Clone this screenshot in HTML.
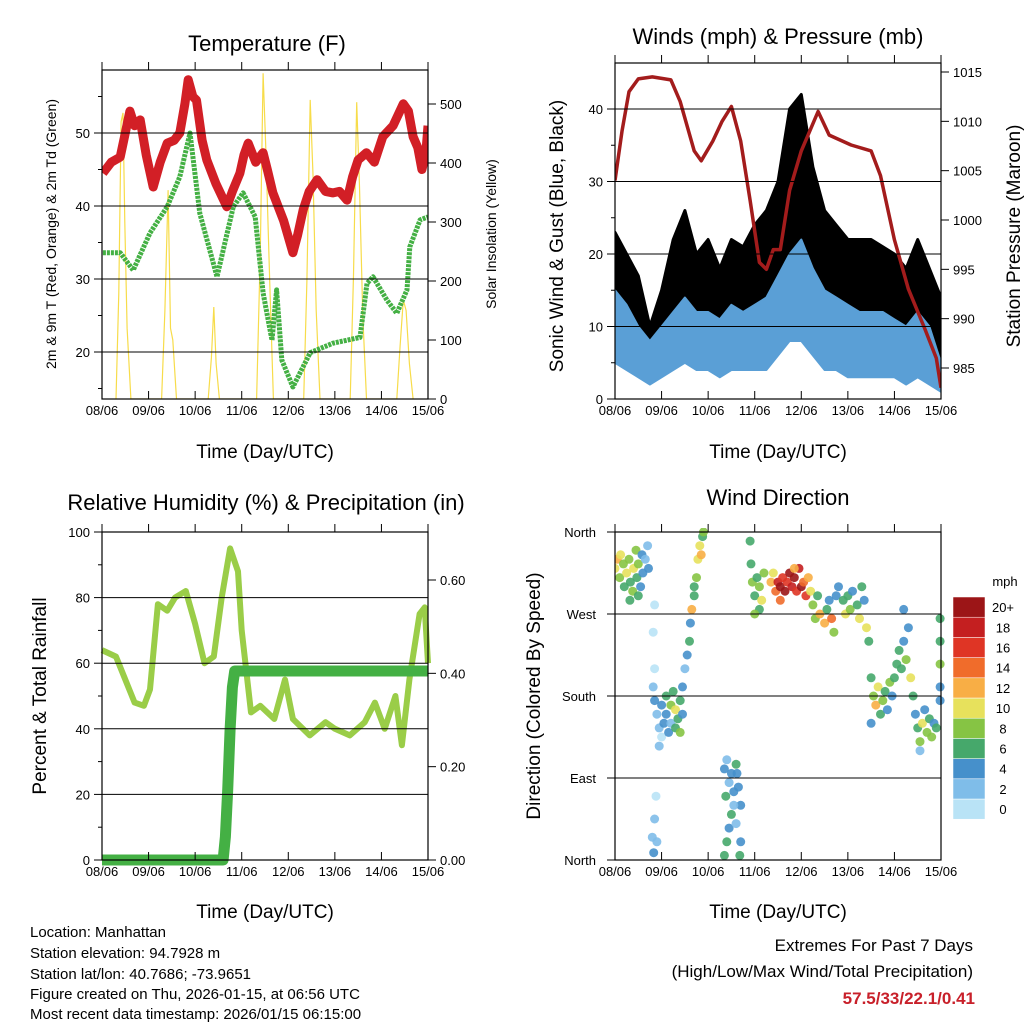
<!DOCTYPE html>
<html><head><meta charset="utf-8"><style>
body{margin:0;background:#fff}
svg{display:block;font-family:"Liberation Sans",sans-serif}
</style></head><body>
<svg id="fig" width="1024" height="1024" viewBox="0 0 1024 1024" xmlns="http://www.w3.org/2000/svg">
<rect width="1024" height="1024" fill="#fff"/>
<g id="layer"></g>
<text x="267" y="51" font-size="22" text-anchor="middle">Temperature (F)</text>
<text x="778" y="44" font-size="22" text-anchor="middle">Winds (mph) &amp; Pressure (mb)</text>
<text x="266" y="510" font-size="22" text-anchor="middle">Relative Humidity (%) &amp; Precipitation (in)</text>
<text x="778" y="505" font-size="22" text-anchor="middle">Wind Direction</text>
<text x="265" y="458" font-size="19" text-anchor="middle">Time (Day/UTC)</text>
<text x="778" y="458" font-size="19" text-anchor="middle">Time (Day/UTC)</text>
<text x="265" y="918" font-size="19" text-anchor="middle">Time (Day/UTC)</text>
<text x="778" y="918" font-size="19" text-anchor="middle">Time (Day/UTC)</text>
<text transform="translate(56,234) rotate(-90)" font-size="14" text-anchor="middle">2m &amp; 9m T (Red, Orange) &amp; 2m Td (Green)</text>
<text transform="translate(496,234) rotate(-90)" font-size="14" text-anchor="middle">Solar Insolation (Yellow)</text>
<text transform="translate(563,236) rotate(-90)" font-size="19" text-anchor="middle">Sonic Wind &amp; Gust (Blue, Black)</text>
<text transform="translate(1020,236) rotate(-90)" font-size="19" text-anchor="middle">Station Pressure (Maroon)</text>
<text transform="translate(46,696) rotate(-90)" font-size="19" text-anchor="middle">Percent &amp; Total Rainfall</text>
<text transform="translate(540,696) rotate(-90)" font-size="19" text-anchor="middle">Direction (Colored By Speed)</text>
<g font-size="15">
<text x="30" y="937">Location: Manhattan</text>
<text x="30" y="958">Station elevation: 94.7928 m</text>
<text x="30" y="979">Station lat/lon: 40.7686; -73.9651</text>
<text x="30" y="999">Figure created on Thu, 2026-01-15, at 06:56 UTC</text>
<text x="30" y="1019">Most recent data timestamp: 2026/01/15 06:15:00</text>
</g>
<text x="973" y="951" font-size="17" text-anchor="end">Extremes For Past 7 Days</text>
<text x="973" y="977" font-size="17" text-anchor="end">(High/Low/Max Wind/Total Precipitation)</text>
<text x="975" y="1004" font-size="17" font-weight="bold" fill="#c8202a" text-anchor="end">57.5/33/22.1/0.41</text>
</svg>
<script>
// ---- Temperature panel data ----
const tempTimes=[0.02,0.2,0.39,0.5,0.6,0.7,0.82,0.95,1.1,1.25,1.4,1.55,1.67,1.78,1.85,1.95,2.03,2.15,2.25,2.45,2.68,2.8,2.96,3.05,3.14,3.3,3.46,3.55,3.67,3.9,4.1,4.2,4.32,4.45,4.62,4.8,4.96,5.1,5.26,5.38,5.5,5.68,5.85,6.03,6.25,6.47,6.58,6.68,6.78,6.87,6.95,7];
const tempVals=[44.5,46,46.7,50,53,51,51.8,47,42.6,46,48.6,49,50,54,57.3,55,54.5,49,46.3,43,39.9,42,44.5,47,48.6,46,47.3,45,41.8,38,33.6,36,39.5,42,43.6,42,41.8,42,40.8,44,46.3,47.3,46,49.5,51,54,53,49.5,48,45,47,51];
const dewTimes=[0.02,0.39,0.67,1.03,1.4,1.67,1.89,2.1,2.47,2.82,3.03,3.29,3.46,3.65,3.75,3.86,4.1,4.47,4.96,5.54,5.69,5.82,6.12,6.33,6.55,6.61,6.83,7];
const dewVals=[33.6,33.6,31.2,36.3,39.9,44,50,39,30.3,39.9,41.8,38.5,28.1,21.6,28.5,18.9,15.2,19.9,21.2,22,29.4,30.3,27.1,25.3,28.5,34.4,38.1,38.5];
const solarTimes=[0.3,0.36,0.41,0.45,0.49,0.54,0.62, 1.28,1.35,1.42,1.47,1.52,1.6, 2.28,2.35,2.4,2.45,2.52, 3.32,3.4,3.46,3.52,3.6,3.68, 4.33,4.4,4.47,4.53,4.6,4.68, 5.33,5.4,5.47,5.53,5.6,5.68, 6.33,6.4,6.47,6.53,6.6,6.68];
const solarVals=[0,180,470,485,300,120,0, 0,150,354,120,100,0, 0,70,156,60,0, 0,250,552,420,200,0, 0,200,507,380,150,0, 0,210,503,360,140,0, 0,90,168,150,60,0];
// ---- Winds panel data ----
const windTimes=[0,0.25,0.5,0.75,1,1.25,1.5,1.75,2,2.25,2.5,2.75,3,3.25,3.5,3.75,4,4.25,4.5,4.75,5,5.25,5.5,5.75,6,6.25,6.5,6.75,7];
const windLo=[5,4,3,2,3,4,5,4,4,3,4,4,4,4,6,8,8,6,4,4,3,3,3,3,3,2,3,2,1];
const windHi=[15,13,10,8,10,12,14,12,12,11,13,12,13,14,17,20,22,18,15,14,13,12,12,12,11,10,12,10,5];
const gustLo=[10,9,7,4,6,8,10,8,8,7,9,8,9,10,14,17,18,12,10,9,9,8,8,7,7,6,7,6,4];
const gustHi=[23,20,17,10,15,22,26,20,22,18,22,21,24,26,30,40,42,32,26,24,22,22,22,21,20,18,22,18,14];
const presTimes=[0,0.15,0.3,0.5,0.8,1.2,1.4,1.7,1.85,2.1,2.3,2.5,2.7,2.9,3.1,3.25,3.4,3.55,3.75,4.0,4.36,4.6,5.07,5.5,5.7,6.0,6.3,6.65,6.9,7];
const presVals=[1004,1009,1013,1014.3,1014.5,1014.2,1012,1007,1006,1008,1010,1011.5,1008,1002,995.7,995,997,997,1003,1007,1011,1008.6,1007.6,1007,1004.5,998,993,989,986,983];
// ---- RH panel data ----
const rhTimes=[0,0.3,0.5,0.7,0.9,1.03,1.2,1.4,1.57,1.8,2.0,2.2,2.4,2.57,2.75,2.92,3.0,3.2,3.4,3.7,3.93,4.1,4.46,4.8,5.0,5.32,5.64,5.86,6.07,6.3,6.44,6.6,6.82,6.93,7];
const rhVals=[64,62,55,48,47,52,78,76,80,82,72,60,62,80,95,88,70,45,47,43,55,43,38,42,40,38,42,48,40,50,35,55,75,77,60];
const rainTimes=[0,2.6,2.65,2.7,2.75,2.8,2.85,7];
const rainVals=[0,0,0.05,0.15,0.28,0.37,0.405,0.405];
// ---- Wind direction data ----
const wdTimes=[0.0,0.05,0.1,0.12,0.18,0.2,0.25,0.3,0.33,0.38,0.4,0.45,0.47,0.5,0.55,0.58,0.6,0.65,0.7,0.72,0.5,0.32,
0.85,0.82,0.85,0.82,0.88,0.85,0.8,0.83,0.9,
0.85,0.9,0.95,1.0,1.0,1.05,1.1,1.1,1.15,1.2,1.2,1.25,1.3,1.3,1.35,1.4,1.4,1.45,0.95,
1.45,1.5,1.55,1.6,1.65,1.62,1.7,1.75,1.78,1.82,1.88,1.9,1.85,1.7,
2.35,2.4,2.45,2.5,2.55,2.6,2.65,2.7,2.5,2.45,2.4,2.35,2.6,2.7,2.68,2.55,2.38,2.62,
2.9,2.92,2.95,3.0,3.05,3.1,3.1,3.15,3.0,3.2,
3.35,3.4,3.45,3.5,3.55,3.6,3.65,3.7,3.75,3.8,3.85,3.9,3.95,4.0,4.05,4.1,4.15,4.2,3.55,3.85,
4.25,4.3,4.35,4.4,4.5,4.55,4.6,4.65,4.7,4.75,4.8,4.9,4.95,5.0,5.05,5.1,5.2,5.25,5.3,5.35,5.4,5.45,
5.5,5.55,5.6,5.65,5.7,5.75,5.8,5.85,5.5,5.9,5.95,6.0,
6.05,6.1,6.15,6.2,6.25,6.3,6.35,6.4,6.2,
6.45,6.5,6.55,6.6,6.65,6.7,6.75,6.8,6.85,6.9,6.55,
6.98,6.98,6.98,6.98,6.98];
const wdDirs=[320,330,310,335,325,300,315,330,305,295,320,340,310,325,300,335,315,330,345,320,290,285,
280,250,210,190,70,45,25,8,20,
175,160,145,170,135,150,180,160,140,170,150,185,165,145,155,175,140,160,125,
190,210,225,240,275,260,290,310,330,345,355,360,335,300,
100,110,85,95,75,105,80,60,50,35,20,5,40,20,5,60,70,95,
350,325,305,290,310,300,275,285,270,315,
305,315,295,305,300,310,295,305,315,300,310,295,320,300,305,290,310,295,285,320,
280,265,290,270,260,275,285,265,250,290,300,285,270,290,275,295,280,265,300,285,255,240,
200,180,170,190,160,175,185,165,150,195,180,200,
215,230,210,240,220,255,200,180,275,
160,145,130,150,165,140,155,135,150,145,120,
265,215,190,175,240];
const wdSpeeds=[10,12,8,10,8,6,11,9,7,8,10,9,6,8,4,5,4,3,2,4,7,6,
1,1,1,2,0,2,3,4,2,
4,2,2,4,1,4,6,4,4,8,3,7,10,6,7,6,8,5,2,
4,2,4,6,12,4,7,8,10,11,7,8,12,6,
4,3,2,4,4,6,4,4,6,4,6,6,3,4,6,2,6,5,
6,6,8,7,6,9,7,10,8,9,
12,11,14,18,20,17,20,16,20,18,20,16,18,20,14,16,12,10,14,12,
8,8,6,12,12,6,4,14,8,4,4,6,10,6,8,4,6,10,6,4,10,6,
6,8,13,10,6,8,6,4,4,8,4,6,
6,6,6,4,8,4,10,6,4,
4,6,8,10,4,8,6,8,4,6,2,
6,8,4,4,6];
const speedColors=["#b9e3f6","#7fbde9","#4690cb","#46a86b","#86c444","#e7e15c","#f8ae45","#f06c2b","#df3525","#c41f20","#9c1517"];
const speedLabels=["0","2","4","6","8","10","12","14","16","18","20+"];
const dayLabels=["08/06","09/06","10/06","11/06","12/06","13/06","14/06","15/06"];

const NS="http://www.w3.org/2000/svg";
const layer=document.getElementById('layer');
function mk(tag,attrs,parent){const e=document.createElementNS(NS,tag);for(const k in attrs)e.setAttribute(k,attrs[k]);(parent||layer).appendChild(e);return e;}
function lin(d0,d1,r0,r1){return v=>r0+(v-d0)/(d1-d0)*(r1-r0);}
function pathOf(xs,ys,fx,fy){return xs.map((t,i)=>(i?'L':'M')+fx(t).toFixed(1)+','+fy(ys[i]).toFixed(1)).join(' ');}

function frame(name,x0,x1,y0,y1,leftTicks,leftLab,fy,rightTicks,rightLab,fyR,minorL,lpad){
  const g=mk('g',{});
  
  
  const fx=lin(0,7,x0,x1);
  leftTicks.forEach((v,i)=>{
    const y=fy(v);
    if(y>y0+1&&y<y1-1){const gl=mk('line',{x1:x0,x2:x1,y1:y,y2:y,stroke:'#000','stroke-width':1},g);
    
    }
    mk('line',{x1:x0-8,x2:x0,y1:y,y2:y,stroke:'#000'},g);
    const t=mk('text',{x:x0-(lpad||12),y:y+5,'font-size':13,'text-anchor':'end'},g);t.textContent=leftLab[i];
    
    
  });
  (minorL||[]).forEach(v=>{const y=fy(v);mk('line',{x1:x0-4,x2:x0,y1:y,y2:y,stroke:'#000'},g);});
  if(rightTicks)rightTicks.forEach((v,i)=>{
    const y=fyR(v);
    mk('line',{x1:x1,x2:x1+8,y1:y,y2:y,stroke:'#000'},g);
    const t=mk('text',{x:x1+12,y:y+5,'font-size':13},g);t.textContent=rightLab[i];
    
    
  });
  dayLabels.forEach((l,i)=>{
    const x=fx(i);
    mk('line',{x1:x,x2:x,y1:y1-8,y2:y1,stroke:'#000'},g);
    mk('line',{x1:x,x2:x,y1:y0-8,y2:y0,stroke:'#000'},g);
    const t=mk('text',{x:x,y:y1+16,'font-size':13,'text-anchor':'middle'},g);t.textContent=l;
    
    
  });
  return g;
}
function border(name,x0,x1,y0,y1){const r=mk('rect',{x:x0,y:y0,width:x1-x0,height:y1-y0,fill:'none',stroke:'#000','stroke-width':1.2});
  
  }

// Panel 1: temperature
(function(){
  const x0=102,x1=428,y0=70,y1=399;
  const fx=lin(0,7,x0,x1), fy=lin(20,50,352,133), fs=lin(0,500,399,104);
  const cp=mk('clipPath',{id:'c1'});mk('rect',{x:x0,y:y0,width:x1-x0,height:y1-y0},cp);
  const g=mk('g',{'clip-path':'url(#c1)'});
  const s=mk('path',{d:pathOf(solarTimes,solarVals,fx,fs),fill:'none',stroke:'#f7dc4a','stroke-width':1.2},g);
  
  
  const d=mk('path',{d:pathOf(dewTimes,dewVals,fx,fy),fill:'none',stroke:'#44b044','stroke-width':5,'stroke-linejoin':'round','stroke-dasharray':'3 1'},g);
  
  
  const t=mk('path',{d:pathOf(tempTimes,tempVals,fx,fy),fill:'none',stroke:'#d21f26','stroke-width':9,'stroke-linejoin':'round'},g);
  
  
  frame('temp',x0,x1,y0,y1,[20,30,40,50],['20','30','40','50'],fy,[0,100,200,300,400,500],['0','100','200','300','400','500'],fs,[15,25,35,45,55]);
  border('temp',x0,x1,y0,y1);
})();

// Panel 2: winds
(function(){
  const x0=615,x1=941,y0=63,y1=399;
  const fx=lin(0,7,x0,x1), fy=lin(0,40,399,109), fp=lin(985,1015,368,72);
  const cp=mk('clipPath',{id:'c2'});mk('rect',{x:x0,y:y0,width:x1-x0,height:y1-y0},cp);
  const g=mk('g',{'clip-path':'url(#c2)'});
  const band=(lo,hi)=>pathOf(windTimes,hi,fx,fy)+' '+windTimes.slice().reverse().map((t,i)=>'L'+fx(t).toFixed(1)+','+fy(lo[lo.length-1-i]).toFixed(1)).join(' ')+'Z';
  const gb=mk('path',{d:band(gustLo,gustHi),fill:'#000',stroke:'#000','stroke-width':3,'stroke-linejoin':'round'},g);
  
  
  const wb=mk('path',{d:band(windLo,windHi),fill:'#5a9fd6',stroke:'#5a9fd6','stroke-width':2,'stroke-linejoin':'round'},g);
  
  
  const p=mk('path',{d:pathOf(presTimes,presVals,fx,fp),fill:'none',stroke:'#a31c1c','stroke-width':3.5,'stroke-linejoin':'round'},g);
  
  
  frame('winds',x0,x1,y0,y1,[0,10,20,30,40],['0','10','20','30','40'],fy,[985,990,995,1000,1005,1010,1015],['985','990','995','1000','1005','1010','1015'],fp,[5,15,25,35]);
  border('winds',x0,x1,y0,y1);
})();

// Panel 3: RH & precip
(function(){
  const x0=102,x1=428,y0=532,y1=860;
  const fx=lin(0,7,x0,x1), fy=lin(0,100,860,532), fr=lin(0,0.6,860,580);
  const cp=mk('clipPath',{id:'c3'});mk('rect',{x:x0-6,y:y0,width:x1-x0+12,height:y1-y0+6},cp);
  const g=mk('g',{'clip-path':'url(#c3)'});
  const r=mk('path',{d:pathOf(rhTimes,rhVals,fx,fy),fill:'none',stroke:'#9acd48','stroke-width':6,'stroke-linejoin':'round'},g);
  
  
  const pr=mk('path',{d:pathOf(rainTimes,rainVals,fx,fr),fill:'none',stroke:'#44b044','stroke-width':11,'stroke-linejoin':'round'},g);
  
  
  frame('rh',x0,x1,y0,y1,[0,20,40,60,80,100],['0','20','40','60','80','100'],fy,[0,0.2,0.4,0.6],['0.00','0.20','0.40','0.60'],fr,[10,30,50,70,90]);
  border('rh',x0,x1,y0,y1);
})();

// Panel 4: wind direction
(function(){
  const x0=615,x1=941,y0=532,y1=860;
  const fx=lin(0,7,x0,x1), fy=lin(0,360,860,532);
  const cp=mk('clipPath',{id:'c4'});mk('rect',{x:x0,y:y0-4,width:x1-x0+4,height:y1-y0+8},cp);
  const g=mk('g',{'clip-path':'url(#c4)'});
  wdTimes.forEach((t,i)=>{
    const ci=Math.min(10,Math.floor(wdSpeeds[i]/2));
    const c=mk('circle',{cx:fx(t).toFixed(1),cy:fy(wdDirs[i]).toFixed(1),r:4.5,fill:speedColors[ci],'fill-opacity':0.9},g);
    
    
  });
  frame('wd',x0,x1,y0,y1,[0,90,180,270,360],['North','East','South','West','North'],fy,null,null,null,[],19);
  border('wd',x0,x1,y0,y1);
  // colorbar
  const cb=mk('g',{});
  
  
  const bx=953,bw=32,bh=20.2,btop=597;
  speedColors.forEach((c,i)=>{
    const y=btop+(10-i)*bh;
    const r=mk('rect',{x:bx,y:y,width:bw,height:bh,fill:c,stroke:'#fff','stroke-width':0.5},cb);
    
    
    const t=mk('text',{x:1003,y:y+bh/2+5,'font-size':13,'text-anchor':'middle'},cb);t.textContent=speedLabels[i];
    
    
  });
  const m=mk('text',{x:1005,y:586,'font-size':13,'text-anchor':'middle'},cb);m.textContent='mph';
  
  
})();
</script>
</body></html>
